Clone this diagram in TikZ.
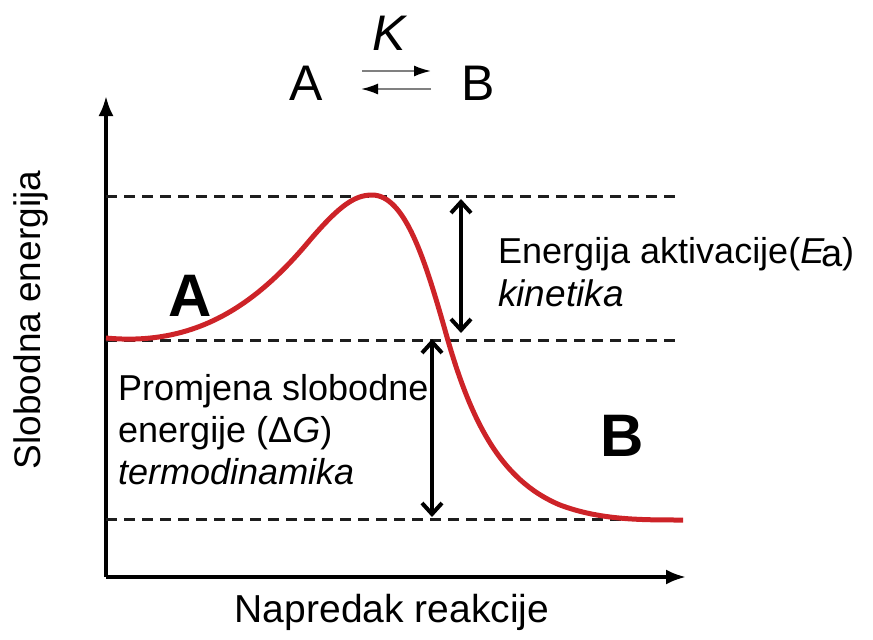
\documentclass[tikz,border=0pt]{standalone}
\usepackage{fontspec}
\setmainfont{Liberation Sans}
\usetikzlibrary{arrows.meta}
\definecolor{curvered}{RGB}{205,35,40}
\definecolor{dashgray}{RGB}{30,30,30}
\begin{document}
\begin{tikzpicture}[x=1pt,y=-1pt,
  axis/.style={line width=3.5pt,-{Latex[length=20pt,width=15pt]}},
  level/.style={line width=3pt,dashgray,dash pattern=on 11pt off 7pt},
  gap/.style={line width=4pt,{Straight Barb[length=11pt,width=20pt,line width=4pt]}-{Straight Barb[length=11pt,width=20pt,line width=4pt]}},
  eqarrow/.style={line width=2pt,gray,-{Latex[length=17pt,width=11pt,black]}},
  lbl/.style={inner sep=0pt,font=\fontsize{36}{42}\selectfont},
  big/.style={inner sep=0pt,font=\fontsize{60}{64}\selectfont\bfseries},
  title/.style={inner sep=0pt,font=\fontsize{50}{54}\selectfont}]
\useasboundingbox (0,0) rectangle (873,640);
% axes
\coordinate (O) at (106,577);
\coordinate (ytop) at (106,96);
\coordinate (xend) at (686,577);
\draw[axis] (O) -- (ytop);
\draw[axis] (O) -- (xend);
% levels
\coordinate (l1a) at (106,196); \coordinate (l1b) at (678,196);
\coordinate (l2a) at (106,340); \coordinate (l2b) at (682,340);
\coordinate (l3a) at (106,519); \coordinate (l3b) at (682,519);
\draw[level] (l1a) -- (l1b);
\draw[level] (l2a) -- (l2b);
\draw[level] (l3a) -- (l3b);
% curve
\draw[curvered,line width=5pt] (106,338) .. controls (200,347) and (260,300) .. (310,240)
  .. controls (340,205) and (355,195) .. (372,195)
  .. controls (405,195) and (425,260) .. (445,330)
  .. controls (470,420) and (500,480) .. (560,505)
  .. controls (600,520) and (640,520) .. (683,520);
% gap arrows
\coordinate (ea1) at (461,199); \coordinate (ea2) at (461,333);
\coordinate (dg1) at (432,339); \coordinate (dg2) at (432,517);
\draw[gap] (ea1) -- (ea2);
\draw[gap] (dg1) -- (dg2);
% labels
\node[lbl,font=\fontsize{36}{42}\selectfont,anchor=base west] (ea) at (498,263) {Energija aktivacije(\textit{E}\kern-0.1em\raisebox{-3pt}{\fontsize{38}{42}\selectfont a})};
\node[lbl,font=\fontsize{37}{42}\selectfont,anchor=base west] (kin) at (498,306) {\textit{kinetika}};
\node[lbl,anchor=base west] (pr) at (118,400) {Promjena slobodne};
\node[lbl,anchor=base west] (en) at (118,442) {energije (Δ\textit{G})};
\node[lbl,anchor=base west] (te) at (118,484) {\textit{termodinamika}};
\node[big,anchor=base] (A) at (190,316) {A};
\node[big,anchor=base] (B) at (622,456) {B};
% title
\node[title,anchor=base] (tA) at (306,100) {A};
\node[title,anchor=base] (tB) at (478,100) {B};
\node[title,anchor=base] (tK) at (390,50) {\textit{K}};
\coordinate (u1) at (362,71); \coordinate (u2) at (431,71);
\coordinate (d1) at (431,89); \coordinate (d2) at (361,89);
\draw[eqarrow] (u1) -- (u2);
\draw[eqarrow] (d1) -- (d2);
% axis titles
\node[lbl,font=\fontsize{39}{44}\selectfont,anchor=base] (xl) at (392,622) {Napredak reakcije};
\node[lbl,font=\fontsize{37}{42}\selectfont,anchor=base,rotate=90] (yl) at (40,320) {Slobodna energija};
\end{tikzpicture}
\end{document}
